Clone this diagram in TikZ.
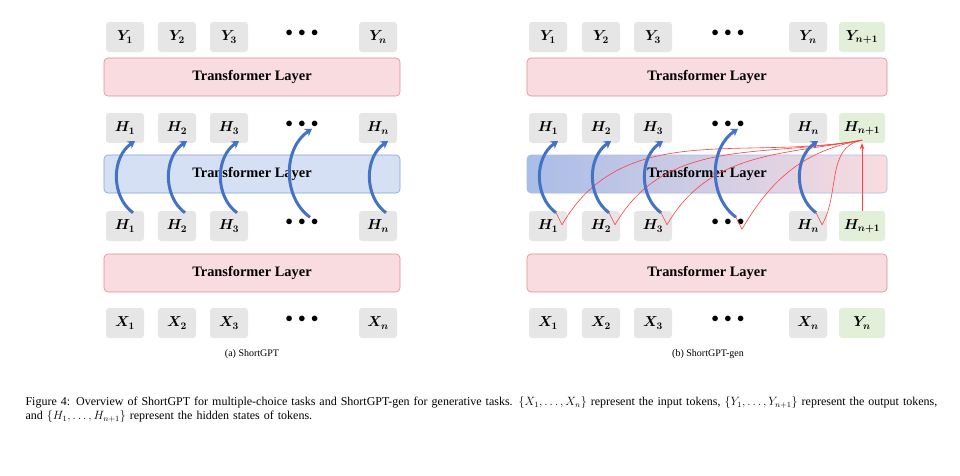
\documentclass[tikz,border=0pt]{standalone}
\usepackage{fontspec}
\setmainfont{Liberation Serif}
\usetikzlibrary{arrows.meta,positioning}
\definecolor{tokgray}{HTML}{E6E6E6}
\definecolor{tokgreen}{HTML}{E2F0D9}
\definecolor{laypink}{HTML}{F9DCE0}
\definecolor{laypinkd}{HTML}{E08A96}
\definecolor{layblue}{HTML}{D6E0F5}
\definecolor{laybluem}{HTML}{A9BDE8}
\definecolor{layblued}{HTML}{7F9FDB}
\definecolor{skip}{HTML}{4472C4}
\tikzset{
tok/.style={fill=tokgray, rounded corners=3pt, minimum width=38pt, minimum height=30pt, font=\Large\boldmath},
gtok/.style={tok, fill=tokgreen, minimum width=46pt},
dots/.style={font=\Large\bfseries},
layer/.style={draw=laypinkd, fill=laypink, rounded corners=4pt, line width=0.6pt, minimum height=38pt, font=\Large\bfseries},
skiparr/.style={draw=skip, line width=3pt, -{Stealth[length=7pt,width=9pt]}},
redln/.style={draw=red!75, line width=0.6pt},
captext/.style={font=\normalsize}
}
\begin{document}
\begin{tikzpicture}[x=1pt,y=-1pt]
\useasboundingbox (0,0) rectangle (960,475);

% ---- (a) ShortGPT
\foreach \i/\x in {1/125,2/177,3/229} {
  \node[tok] (ay\i) at (\x,37) {$Y_\i$};
  \node[tok] (aht\i) at (\x,128) {$H_\i$};
  \node[tok] (ahb\i) at (\x,226) {$H_\i$};
  \node[tok] (ax\i) at (\x,323) {$X_\i$};
}
\node[tok] (ayn) at (378,37) {$Y_n$};
\node[tok] (ahtn) at (378,128) {$H_n$};
\node[tok] (ahbn) at (378,226) {$H_n$};
\node[tok] (axn) at (378,323) {$X_n$};
\foreach \y/\n in {37/ay,128/aht,226/ahb,323/ax}
  \node[dots] (\n d) at (302,\y-4) {$\bullet\,\bullet\,\bullet$};
\node[layer, minimum width=296pt] (al1) at (252,77) {Transformer Layer};
\node[layer, draw=layblued, fill=layblue, minimum width=296pt] (al2) at (252,174) {Transformer Layer};
\node[layer, minimum width=296pt] (al3) at (252,273) {Transformer Layer};
\foreach \s in {1,2,3,d,n}
  \draw[skiparr] ([xshift=8pt,yshift=-2pt]ahb\s.north) to[bend left=55] ([xshift=10pt,yshift=2pt]aht\s.south);
\node[captext] (capa) at (252,354) {(a) ShortGPT};

% ---- (b) ShortGPT-gen
\foreach \i/\x in {1/548,2/601,3/653} {
  \node[tok] (by\i) at (\x,37) {$Y_\i$};
  \node[tok] (bht\i) at (\x,128) {$H_\i$};
  \node[tok] (bhb\i) at (\x,226) {$H_\i$};
  \node[tok] (bx\i) at (\x,323) {$X_\i$};
}
\node[tok] (byn) at (808,37) {$Y_n$};
\node[tok] (bhtn) at (808,128) {$H_n$};
\node[tok] (bhbn) at (808,226) {$H_n$};
\node[tok] (bxn) at (808,323) {$X_n$};
\node[gtok] (bym) at (862,37) {$Y_{n+1}$};
\node[gtok] (bhtm) at (862,128) {$H_{n+1}$};
\node[gtok] (bhbm) at (862,226) {$H_{n+1}$};
\node[gtok] (bxm) at (862,323) {$Y_n$};
\foreach \y/\n in {37/by,128/bht,226/bhb,323/bx}
  \node[dots] (\n d) at (728,\y-4) {$\bullet\,\bullet\,\bullet$};
\node[layer, minimum width=360pt] (bl1) at (707,77) {Transformer Layer};
\node[layer, draw=laybluem, left color=laybluem, right color=laypink, minimum width=360pt] (bl2) at (707,174) {Transformer Layer};
\node[layer, minimum width=360pt] (bl3) at (707,273) {Transformer Layer};
\foreach \s in {1,2,3,d,n}
  \draw[redln] ([xshift=8pt,yshift=-2pt]bhb\s.north) -- ([xshift=14pt,yshift=-14pt]bhb\s.north)
    to[out=60,in=190] ([yshift=3pt]bhtm.south);
\draw[redln, -{Stealth[length=6pt]}] (bhbm.north) -- (bhtm.south);
\foreach \s in {1,2,3,d,n}
  \draw[skiparr] ([xshift=8pt,yshift=-2pt]bhb\s.north) to[bend left=55] ([xshift=10pt,yshift=2pt]bht\s.south);
\node[captext] (capb) at (708,354) {(b) ShortGPT-gen};

% ---- figure caption
\node[captext, font=\large, anchor=north west, text width=920pt, align=left] (fig) at (22,393)
 {Figure 4: Overview of ShortGPT for multiple-choice tasks and ShortGPT-gen for generative tasks. $\{X_1,\ldots,X_n\}$ represent the input tokens, $\{Y_1,\ldots,Y_{n+1}\}$ represent the output tokens, and $\{H_1,\ldots,H_{n+1}\}$ represent the hidden states of tokens.};
\end{tikzpicture}
\end{document}
